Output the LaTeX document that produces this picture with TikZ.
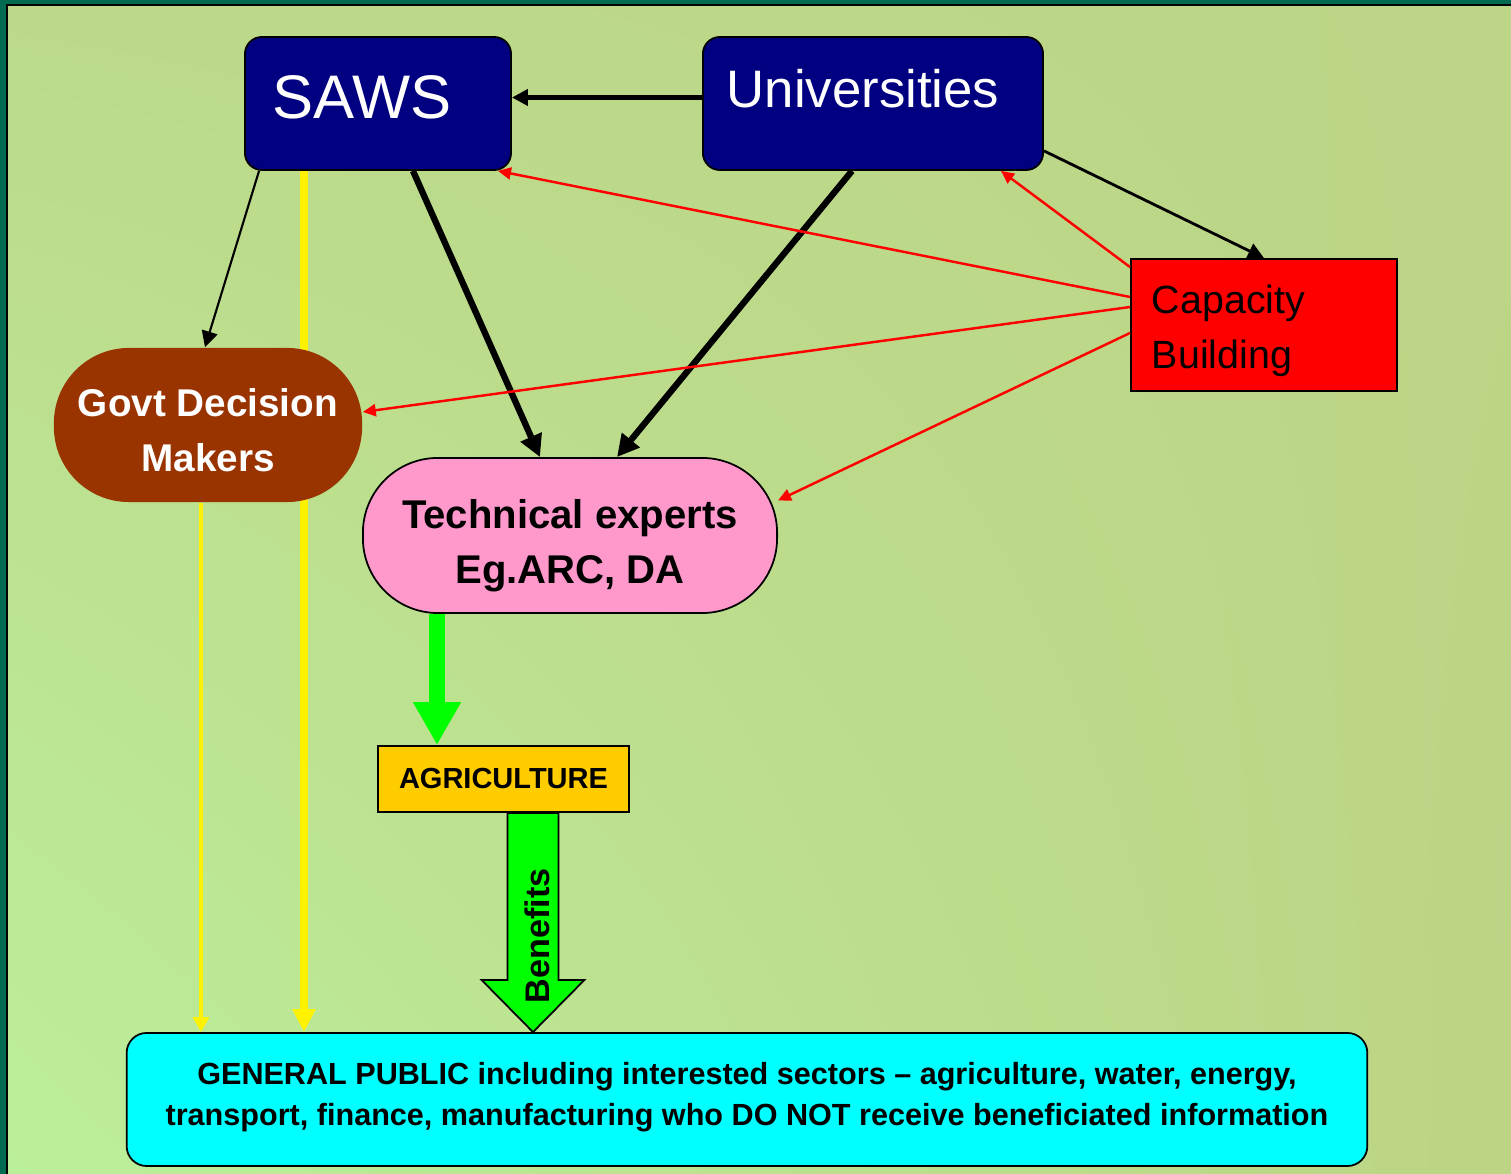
\documentclass[tikz,border=0pt]{standalone}
\usepackage{fontspec}
\setmainfont{Liberation Sans}
\usetikzlibrary{arrows.meta,calc,backgrounds,shadings}

\definecolor{framegreen}{HTML}{006B50}
\definecolor{bgtl}{HTML}{BCD98A}
\definecolor{bgtr}{HTML}{BCD586}
\definecolor{bgbl}{HTML}{BCEF9A}
\definecolor{bgbr}{HTML}{BCD484}
\definecolor{navy}{HTML}{000080}
\definecolor{brown}{HTML}{993300}
\definecolor{pink}{HTML}{FF99CC}
\definecolor{gold}{HTML}{FFCC00}
\definecolor{brightgreen}{HTML}{00FF00}
\definecolor{aqua}{HTML}{00FFFF}

\begin{document}
\begin{tikzpicture}[x=0.01cm,y=-0.01cm,>=Stealth,
  every node/.style={inner sep=0pt},
  navybox/.style={draw=black,line width=0.5pt,fill=navy,text=white,rounded corners=0.17cm},
  blk/.style={draw=black,line width=#1,-{Triangle[length=0.16cm,width=0.16cm]}},
  bigblk/.style={draw=black,line width=#1,-{Triangle[length=0.22cm,width=0.22cm]}},
  redline/.style={draw=red,line width=0.7pt,-{Triangle[length=0.13cm,width=0.12cm]}},
  yel/.style={draw=yellow,line width=#1}]
\useasboundingbox (0,0) rectangle (1511,1174);

\node[navybox,minimum width=2.66cm,minimum height=1.33cm,
  font=\fontsize{17.5}{21}\selectfont] (saws) at (378,103.5)
  {SAWS\hspace{0.32cm}\rule[-0.13cm]{0pt}{0.13cm}};
\node[navybox,minimum width=3.4cm,minimum height=1.33cm,
  font=\fontsize{15}{18}\selectfont] (univ) at (873,103.5)
  {Universities\hspace{0.2cm}\rule[-0.3cm]{0pt}{0.3cm}};
\node[draw=black,line width=0.5pt,fill=red,minimum width=2.66cm,minimum height=1.32cm,
  text width=2.24cm,inner xsep=0.21cm,align=left,
  font=\fontsize{11.2}{15.6}\selectfont] (cap) at (1264,325) {\rule{0pt}{0.4cm}Capacity\\Building};
\node[fill=brown,text=white,minimum width=3.08cm,minimum height=1.54cm,
  rounded corners=0.75cm,align=center,
  font=\bfseries\fontsize{11}{15.6}\selectfont] (govt) at (208,425) {\rule{0pt}{0.38cm}Govt Decision\\Makers};
\node[draw=black,line width=0.5pt,fill=pink,minimum width=4.14cm,minimum height=1.55cm,
  rounded corners=0.75cm,align=center,
  font=\bfseries\fontsize{11.4}{15.6}\selectfont] (tech) at (570,535.5) {\rule{0pt}{0.5cm}Technical experts\\Eg.ARC, DA};
\node[draw=black,line width=0.5pt,fill=gold,minimum width=2.51cm,minimum height=0.66cm,
  font=\bfseries\fontsize{8.25}{10}\selectfont] (agri) at (503.5,779) {AGRICULTURE};
\node[draw=black,line width=0.5pt,fill=aqua,minimum width=12.4cm,minimum height=1.33cm,
  rounded corners=0.2cm,align=center,
  font=\bfseries\fontsize{8.7}{11.7}\selectfont] (pub) at (747,1099.5)
  {GENERAL PUBLIC including interested sectors – agriculture, water, energy,\\
   transport, finance, manufacturing who DO NOT receive beneficiated information\rule[-0.12cm]{0pt}{0.12cm}};

% black links
\draw[blk=1.3pt] ($(univ.west)+(0,-6)$) -- ($(saws.east)+(0,-6)$);
\draw[blk=0.6pt] ($(saws.south west)+(15,0)$) -- ($(govt.north)+(-3,0)$);
\draw[bigblk=1.8pt] ($(saws.south)+(35,0)$) -- ($(tech.north)+(-30,0)$);
\draw[bigblk=1.8pt] ($(univ.south)+(-21,0)$) -- ($(tech.north)+(47,0)$);
\draw[blk=0.8pt] ($(univ.south east)+(0,-20)$) -- (cap.north);

% capacity building
\draw[redline] ($(cap.west)+(0,-28)$) -- ($(saws.south east)+(-14,0)$);
\draw[redline] ($(cap.north west)+(0,9)$) -- ($(univ.south east)+(-43,0)$);
\draw[redline] ($(cap.west)+(0,-18)$) -- ($(govt.east)+(0,-13)$);
\draw[redline] ($(cap.west)+(0,8)$) -- ($(tech.east)+(0,-35)$);

% green arrows
\draw[brightgreen,line width=0.15cm,-{Triangle[length=0.43cm,width=0.45cm]}]
  ($(tech.south)+(-133,0)$) -- ($(agri.north)+(-66.5,0)$);
\coordinate (b0) at ($(agri.south)+(29.5,0)$);
\draw[fill=brightgreen,line width=0.5pt] ($(b0)+(-25.5,0)$) -- ($(b0)+(25.5,0)$)
  -- ($(b0)+(25.5,167)$) -- ($(b0)+(51.5,167)$) -- (b0 |- pub.north)
  -- ($(b0)+(-51.5,167)$) -- ($(b0)+(-25.5,167)$) -- cycle;
\node[rotate=90,font=\bfseries\fontsize{9.7}{12}\selectfont] (ben) at ($(b0)+(4,123)$) {Benefits};

\begin{pgfonlayer}{background}
\fill[framegreen] (0,0) rectangle (1511,1174);
\shade[upper left=bgtl,upper right=bgtr,lower left=bgbl,lower right=bgbr] (7,5) rectangle (1511,1174);
\draw[black,line width=0.5pt] (7,1174) -- (7,5) -- (1511,5);
% yellow links
\coordinate (s1) at ($(saws.south)+(-74,0)$);
\coordinate (g1) at ($(govt.south)+(-7,0)$);
\draw[yel=2.3pt,-{Triangle[length=0.23cm,width=0.22cm]}] (s1) -- (s1 |- pub.north);
\draw[yel=1pt,-{Triangle[length=0.15cm,width=0.16cm]}] (g1) -- (g1 |- pub.north);
\end{pgfonlayer}
\end{tikzpicture}
\end{document}
